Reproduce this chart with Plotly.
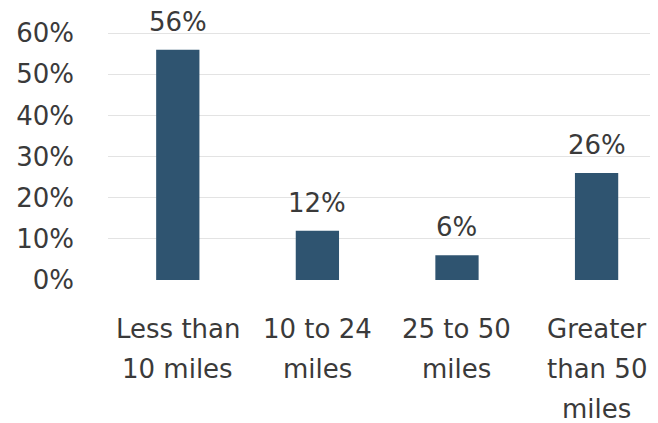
import plotly.graph_objects as go

categories = ["Less than 10 miles", "10 to 24 miles", "25 to 50 miles", "Greater than 50 miles"]
label_lines = [["Less than", "10 miles"], ["10 to 24", "miles"], ["25 to 50", "miles"], ["Greater", "than 50", "miles"]]
values = [56, 12, 6, 26]
y_ticks = [0, 10, 20, 30, 40, 50, 60]
y_tick_text = ["0%", "10%", "20%", "30%", "40%", "50%", "60%"]

BAR = "#2F5470"
TXT = "#3a3a3a"
FONT = "DejaVu Sans"

fig = go.Figure()
fig.add_trace(go.Bar(
    x=categories, y=values, width=0.31,
    marker=dict(color=BAR, line=dict(width=0)),
    hoverinfo="skip",
))

annotations = []
for c, v in zip(categories, values):
    annotations.append(dict(
        x=c, y=v, xref="x", yref="y", text=f"{v}%", showarrow=False,
        yanchor="bottom", yshift=11, font=dict(family=FONT, size=26, color=TXT)))

for c, lines in zip(categories, label_lines):
    for i, ln in enumerate(lines):
        annotations.append(dict(
            x=c, y=0, xref="x", yref="paper", text=ln, showarrow=False,
            yanchor="middle", yshift=-49 - 40 * i,
            font=dict(family=FONT, size=26, color=TXT)))

fig.update_layout(
    width=650, height=415,
    margin=dict(l=100, r=0, t=17, b=143),
    paper_bgcolor="white", plot_bgcolor="white",
    showlegend=False,
    annotations=annotations,
    xaxis=dict(range=[-0.5, 3.44], showticklabels=False, showgrid=False,
               zeroline=False, showline=False, ticks=""),
    yaxis=dict(range=[0, 62], tickvals=y_ticks, ticktext=y_tick_text,
               showgrid=True, gridcolor="#e3e3e3", gridwidth=1,
               zeroline=False, showline=False, ticks="",
               ticklabelstandoff=33,
               tickfont=dict(family=FONT, size=26, color=TXT)),
)

fig.write_html("out.html")
